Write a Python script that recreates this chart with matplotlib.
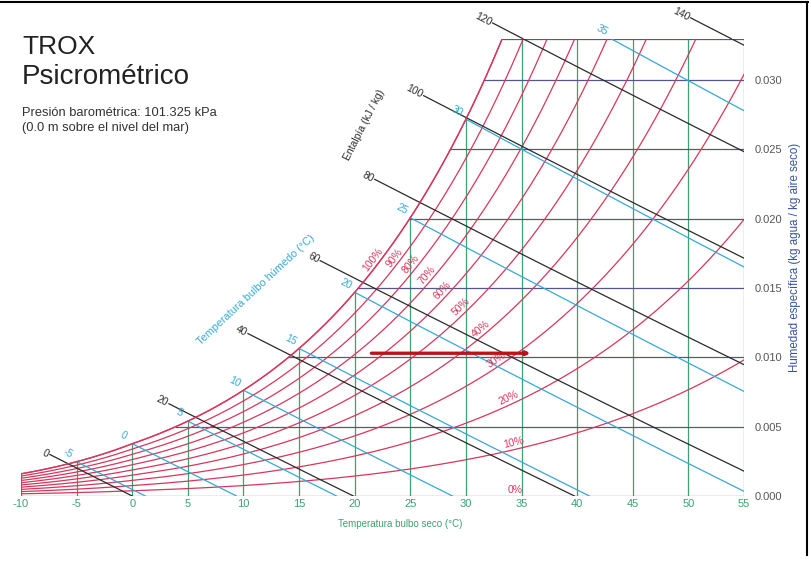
import numpy as np
import matplotlib
matplotlib.use('Agg')
import matplotlib.pyplot as plt

plt.rcParams['font.family'] = ['Liberation Sans', 'DejaVu Sans']

# chart data
PRESSURE = 101.325  # kPa
T_MIN, T_MAX = -10, 55
W_TOP = 0.033
T_TICKS = [-10, -5, 0, 5, 10, 15, 20, 25, 30, 35, 40, 45, 50, 55]
W_TICKS = [0.000, 0.005, 0.010, 0.015, 0.020, 0.025, 0.030]
RH_LEVELS = [10, 20, 30, 40, 50, 60, 70, 80, 90, 100]
RH_LABEL_T = [34.4, 34.0, 33.0, 31.6, 29.9, 28.2, 26.8, 25.4, 23.9, 22.0]
WET_BULB = [-5, 0, 5, 10, 15, 20, 25, 30, 35]
ENTHALPY = [0, 20, 40, 60, 80, 100, 120, 140]
ENTHALPY_LABEL_T = [-7.4, 3.3, 10.4, 16.9, 21.8, 26.2, 32.4, 50.2]
PROCESS_T = [21.5, 35.8]
PROCESS_W = [0.0103, 0.0103]

RED = '#d6375c'
GREEN = '#3fa070'
NAVY = '#55558f'
CYAN = '#35a9d6'
BLACK = '#2b2b2b'


def psat(t):
    t = np.asarray(t, dtype=float)
    water = 0.61078 * np.exp(17.27 * t / (t + 237.3))
    ice = 0.61078 * np.exp(21.875 * t / (t + 265.5))
    return np.where(t >= 0, water, ice)


def w_rh(t, rh):
    p = rh / 100.0 * psat(t)
    return 0.622 * p / (PRESSURE - p)


def w_enthalpy(t, h):
    return (h - 1.006 * t) / (2501 + 1.86 * t)


def w_wetbulb(t, twb):
    ws = w_rh(twb, 100)
    return ((2501 - 2.326 * twb) * ws - 1.006 * (t - twb)) / (2501 + 1.86 * t - 4.186 * twb)


def screen_angle(ax, t, func, dt=0.05):
    p1 = ax.transData.transform((t, func(t)))
    p2 = ax.transData.transform((t + dt, func(t + dt)))
    return np.degrees(np.arctan2(p2[1] - p1[1], p2[0] - p1[0]))


fig = plt.figure(figsize=(8.11, 5.81), dpi=100)
ax = fig.add_axes([21 / 811, 1 - 496 / 581, 723 / 811, (496 - 38.6) / 581])
ax.set_xlim(T_MIN, T_MAX)
ax.set_ylim(0, W_TOP)
for s in ax.spines.values():
    s.set_visible(False)

tt = np.linspace(T_MIN, T_MAX, 2000)
wsat = w_rh(tt, 100)

# dry bulb verticals
for t in T_TICKS[1:]:
    top = min(float(w_rh(t, 100)), W_TOP)
    ax.plot([t, t], [0, top], color=GREEN, lw=0.9)

# specific humidity horizontals
for w in W_TICKS[1:] + [W_TOP]:
    t_dew = np.interp(w, wsat, tt)
    ax.plot([t_dew, T_MAX], [w, w], color=NAVY, lw=0.9)

# relative humidity curves
ax.plot([T_MIN, T_MAX], [0, 0], color=RED, lw=0.9)
ax.plot([T_MIN, T_MIN], [0, w_rh(T_MIN, 100)], color=RED, lw=0.9)
for rh, tl in zip(RH_LEVELS, RH_LABEL_T):
    w = w_rh(tt, rh)
    m = w <= W_TOP
    ax.plot(tt[m], w[m], color=RED, lw=0.9)
    ang = screen_angle(ax, tl, lambda x, r=rh: w_rh(x, r))
    ax.annotate(f'{rh}%', (tl, w_rh(tl, rh)), xytext=(0, 1.5), textcoords='offset points',
                rotation=ang, rotation_mode='anchor', ha='center', va='bottom',
                color=RED, fontsize=7.5)
ax.annotate('0%', (34.4, 0), xytext=(0, 1), textcoords='offset points',
            ha='center', va='bottom', color=RED, fontsize=7.5)

# wet bulb lines
for twb in WET_BULB:
    t = np.linspace(twb, T_MAX, 1500)
    w = w_wetbulb(t, twb)
    m = (w >= 0) & (w <= W_TOP + 1e-6)
    ax.plot(t[m], w[m], color=CYAN, lw=0.9)
    t0, w0 = t[m][0], w[m][0]
    ang = screen_angle(ax, t0, lambda x, b=twb: w_wetbulb(x, b))
    ax.annotate(f'{twb}', (t0, w0), xytext=(-6, 6), textcoords='offset points',
                rotation=ang, rotation_mode='anchor', ha='center', va='center',
                color=CYAN, fontsize=7.5)

# enthalpy lines
for h, tl in zip(ENTHALPY, ENTHALPY_LABEL_T):
    t = np.linspace(-15, T_MAX, 3000)
    w = w_enthalpy(t, h)
    m = (w >= 0) & (w <= np.minimum(w_rh(t, 100), W_TOP))
    ax.plot(t[m], w[m], color=BLACK, lw=0.9)
    te = np.linspace(tl, t[m][0], 20)
    ax.plot(te, w_enthalpy(te, h), color=BLACK, lw=0.9, clip_on=False)
    ang = screen_angle(ax, tl, lambda x, e=h: w_enthalpy(x, e))
    ax.annotate(f'{h}', (tl, w_enthalpy(tl, h)), xytext=(-1, 0), textcoords='offset points',
                rotation=ang, rotation_mode='anchor', ha='right', va='center',
                color=BLACK, fontsize=7.5, annotation_clip=False)

# saturation curve on top
m = wsat <= W_TOP
ax.plot(tt[m], wsat[m], color=RED, lw=1.0)

# process line
ax.annotate('', xy=(PROCESS_T[1], PROCESS_W[1]), xytext=(PROCESS_T[0], PROCESS_W[0]),
            arrowprops=dict(arrowstyle='-|>', color='#c0101a', lw=2.4, mutation_scale=5,
                            shrinkA=0, shrinkB=0))

# axes ticks and labels
ax.set_xticks(T_TICKS)
ax.set_xticklabels([str(t) for t in T_TICKS])
ax.yaxis.tick_right()
ax.set_yticks(W_TICKS)
ax.set_yticklabels([f'{w:.3f}' for w in W_TICKS])
ax.tick_params(axis='x', length=0, pad=2, labelsize=8, labelcolor=GREEN)
ax.tick_params(axis='y', length=0, pad=8, labelsize=8, labelcolor='#555555')
ax.set_xlabel('Temperatura bulbo seco (°C)', color=GREEN, fontsize=7)
ax.xaxis.set_label_coords((400 - 21) / 723, (496 - 519) / 457.4)
ax.yaxis.set_label_position('right')
ax.set_ylabel('Humedad específica (kg agua / kg aire seco)', color='#3552a3', fontsize=8.3,
              va='center')
ax.yaxis.set_label_coords((795 - 21) / 723, (496 - 257) / 457.4)

fig.text(364 / 811, 1 - 125 / 581, 'Entalpía (kJ / kg)', rotation=63, color=BLACK,
         fontsize=7.5, ha='center', va='center')
fig.text(256 / 811, 1 - 290 / 581, 'Temperatura bulbo húmedo (°C)', rotation=43, color=CYAN,
         fontsize=7.8, ha='center', va='center')

# title block
fig.text(22 / 811, 1 - 54 / 581, 'TROX', fontsize=19, color='#222222', va='baseline')
fig.text(22 / 811, 1 - 84 / 581, 'Psicrométrico', fontsize=20, color='#222222', va='baseline')
fig.text(22 / 811, 1 - 116 / 581, 'Presión barométrica: 101.325 kPa', fontsize=9.3,
         color='#333333', va='baseline')
fig.text(22 / 811, 1 - 131 / 581, '(0.0 m sobre el nivel del mar)', fontsize=9.3,
         color='#333333', va='baseline')

# frame
fig.add_artist(plt.Line2D([0, 808 / 811], [1 - 2 / 581, 1 - 2 / 581], color='black', lw=1.5))
fig.add_artist(plt.Line2D([807 / 811, 807 / 811], [1 - 2 / 581, 1 - 555 / 581], color='black', lw=1.5))

fig.savefig('out.png', dpi=100)
